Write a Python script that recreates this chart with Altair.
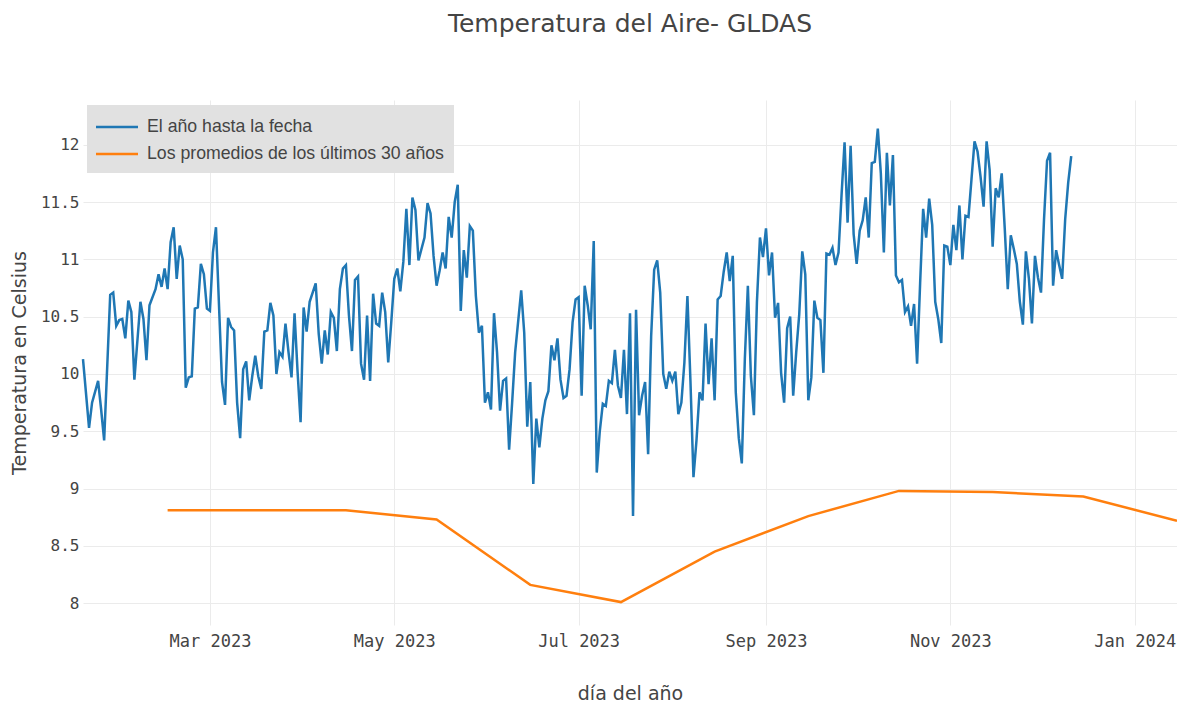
import altair as alt
import pandas as pd

# ---- data ----
series_names = ["El año hasta la fecha", "Los promedios de los últimos 30 años"]
series_colors = ["#1f77b4", "#ff7f0e"]

# day-of-year (2023) for the year-to-date series
doy_ytd = ([18, 20, 21, 23, 24, 25, 27, 28, 29, 30, 31, 32, 33, 34, 35, 37, 38, 39, 40,
            42, 43, 44, 45, 46, 47, 48, 49, 50, 51, 52, 53, 54]
           + list(range(55, 94)) + list(range(95, 162)) + list(range(163, 346)))

temp_ytd = [
    # 18..54 (irregular)
    10.13, 9.53, 9.75, 9.94, 9.69, 9.42, 10.69, 10.71, 10.42, 10.47, 10.48, 10.31, 10.64, 10.54,
    9.95, 10.63, 10.48, 10.12, 10.60, 10.74, 10.87, 10.76, 10.92, 10.74, 11.15, 11.28, 10.83,
    11.12, 11.00, 9.88, 9.97, 9.98,
    # 55..93
    10.57, 10.58, 10.96, 10.87, 10.57, 10.55, 11.06, 11.28, 10.60, 9.93,
    9.73, 10.49, 10.41, 10.38, 9.75, 9.44, 10.04, 10.11, 9.77, 9.98,
    10.16, 9.98, 9.87, 10.37, 10.38, 10.62, 10.51, 10.00, 10.19, 10.15,
    10.44, 10.19, 9.97, 10.53, 10.02, 9.58, 10.58, 10.37, 10.63,
    # 95..161
    10.79, 10.35, 10.09, 10.38, 10.17, 10.54, 10.49, 10.20, 10.74, 10.92,
    10.95, 10.51, 10.20, 10.82, 10.85, 10.09, 9.95, 10.51, 9.94, 10.70,
    10.44, 10.42, 10.71, 10.54, 10.10, 10.45, 10.83, 10.92, 10.72, 10.98,
    11.44, 10.95, 11.54, 11.43, 10.99, 11.09, 11.19, 11.49, 11.40, 11.03,
    10.77, 10.90, 11.06, 10.92, 11.37, 11.19, 11.50, 11.65, 10.55, 11.08,
    10.84, 11.29, 11.25, 10.68, 10.36, 10.42, 9.75, 9.84, 9.69, 10.53,
    10.19, 9.68, 9.94, 9.96, 9.34, 9.75, 10.19,
    # 163..345
    10.73, 10.36, 9.54, 9.93, 9.04, 9.61, 9.36, 9.61, 9.77, 9.85,
    10.25, 10.12, 10.31, 9.95, 9.79, 9.81, 10.04, 10.45, 10.65, 10.67,
    9.81, 10.77, 10.60, 10.39, 11.16, 9.14, 9.50, 9.74, 9.72, 9.94,
    9.92, 10.21, 9.90, 9.79, 10.21, 9.65, 10.53, 8.76, 10.56, 9.64,
    9.81, 9.93, 9.30, 10.33, 10.91, 10.99, 10.71, 10.00, 9.87, 10.02,
    9.94, 10.02, 9.65, 9.75, 10.10, 10.68, 9.94, 9.10, 9.42, 9.84,
    9.77, 10.44, 9.91, 10.31, 9.77, 10.65, 10.68, 10.89, 11.06, 10.81,
    11.03, 9.84, 9.44, 9.22, 10.13, 10.77, 9.98, 9.64, 10.63, 11.19,
    11.02, 11.27, 10.86, 11.06, 10.49, 10.62, 10.01, 9.75, 10.40, 10.50,
    9.81, 10.19, 10.52, 11.07, 10.87, 9.77, 9.97, 10.64, 10.49, 10.47,
    10.01, 11.05, 11.04, 11.10, 10.95, 11.06, 11.56, 12.02, 11.32, 11.99,
    11.22, 10.96, 11.25, 11.34, 11.54, 11.19, 11.84, 11.85, 12.14, 11.75,
    11.06, 11.93, 11.47, 11.91, 10.86, 10.80, 10.82, 10.54, 10.59, 10.42,
    10.61, 10.09, 10.79, 11.44, 11.19, 11.53, 11.30, 10.63, 10.48, 10.27,
    11.12, 11.11, 10.95, 11.30, 11.08, 11.47, 11.00, 11.38, 11.37, 11.70,
    12.03, 11.94, 11.72, 11.46, 12.03, 11.78, 11.11, 11.62, 11.54, 11.75,
    11.27, 10.74, 11.21, 11.09, 10.96, 10.63, 10.43, 11.07, 10.83, 10.44,
    11.03, 10.84, 10.71, 11.35, 11.86, 11.93, 10.77, 11.08, 10.95, 10.83,
    11.35, 11.67, 11.90,
]

avg_dates = ["2023-02-15", "2023-03-15", "2023-04-15", "2023-05-15", "2023-06-15",
             "2023-07-15", "2023-08-15", "2023-09-15", "2023-10-15", "2023-11-15",
             "2023-12-15", "2024-01-15"]
avg_vals = [8.81, 8.81, 8.81, 8.73, 8.16, 8.01, 8.45, 8.76, 8.98, 8.97, 8.93, 8.72]

y_ticks = [8, 8.5, 9, 9.5, 10, 10.5, 11, 11.5, 12]
x_tick_months = [(2023, 3), (2023, 5), (2023, 7), (2023, 9), (2023, 11), (2024, 1)]

assert len(doy_ytd) == len(temp_ytd), (len(doy_ytd), len(temp_ytd))

# ---- build table ----
dates_ytd = pd.Timestamp("2023-01-01") + pd.to_timedelta([d - 1 for d in doy_ytd], unit="D")
df1 = pd.DataFrame({"fecha": dates_ytd, "valor": temp_ytd, "serie": series_names[0]})
df2 = pd.DataFrame({"fecha": pd.to_datetime(avg_dates), "valor": avg_vals, "serie": series_names[1]})
df = pd.concat([df1, df2], ignore_index=True)

dmin, dmax = df["fecha"].min(), df["fecha"].max()
x_domain = [alt.DateTime(year=dmin.year, month=dmin.month, date=dmin.day),
            alt.DateTime(year=dmax.year, month=dmax.month, date=dmax.day)]
x_values = [alt.DateTime(year=y, month=m, date=1) for y, m in x_tick_months]

TITLE_FONT = "DejaVu Sans"
TICK_FONT = "DejaVu Sans Mono"
LEGEND_FONT = "Liberation Sans"

chart = (
    alt.Chart(df)
    .mark_line(strokeWidth=2.5)
    .encode(
        x=alt.X("fecha:T", title="día del año",
                scale=alt.Scale(domain=x_domain),
                axis=alt.Axis(values=x_values, format="%b %Y", labelPadding=8,
                              labelFontSize=17, titlePadding=35)),
        y=alt.Y("valor:Q", title="Temperatura en Celsius",
                scale=alt.Scale(domain=[7.81, 12.39], nice=False, zero=False),
                axis=alt.Axis(values=y_ticks, format="~g", labelPadding=4,
                              labelFontSize=16, titlePadding=11)),
        color=alt.Color("serie:N",
                        scale=alt.Scale(domain=series_names, range=series_colors),
                        legend=alt.Legend(title=None, orient="none", legendX=4, legendY=5,
                                          fillColor="#e1e1e1", padding=10,
                                          symbolType="M-2,0L2,0", symbolSize=441,
                                          symbolStrokeWidth=2.5, symbolOffset=8,
                                          labelFontSize=17.7, labelFont=LEGEND_FONT,
                                          labelColor="#444", labelLimit=500,
                                          labelOffset=18, rowPadding=6)),
    )
    .properties(
        width=1094, height=525,
        title=alt.Title("Temperatura del Aire- GLDAS", fontSize=25, font=TITLE_FONT,
                        color="#444", fontWeight="normal", anchor="middle",
                        baseline="alphabetic", offset=43),
        autosize=alt.AutoSizeParams(type="none"),
        padding={"left": 75, "top": 92, "right": 0, "bottom": 84},
    )
    .configure_view(stroke=None)
    .configure_axis(domain=False, ticks=False, gridColor="#ebebeb", gridWidth=1,
                    labelFont=TICK_FONT, labelColor="#444",
                    titleFont=TITLE_FONT, titleFontSize=19, titleColor="#444",
                    titleFontWeight="normal")
)

chart.save("out.html", embed_options={"renderer": "svg", "actions": False})
